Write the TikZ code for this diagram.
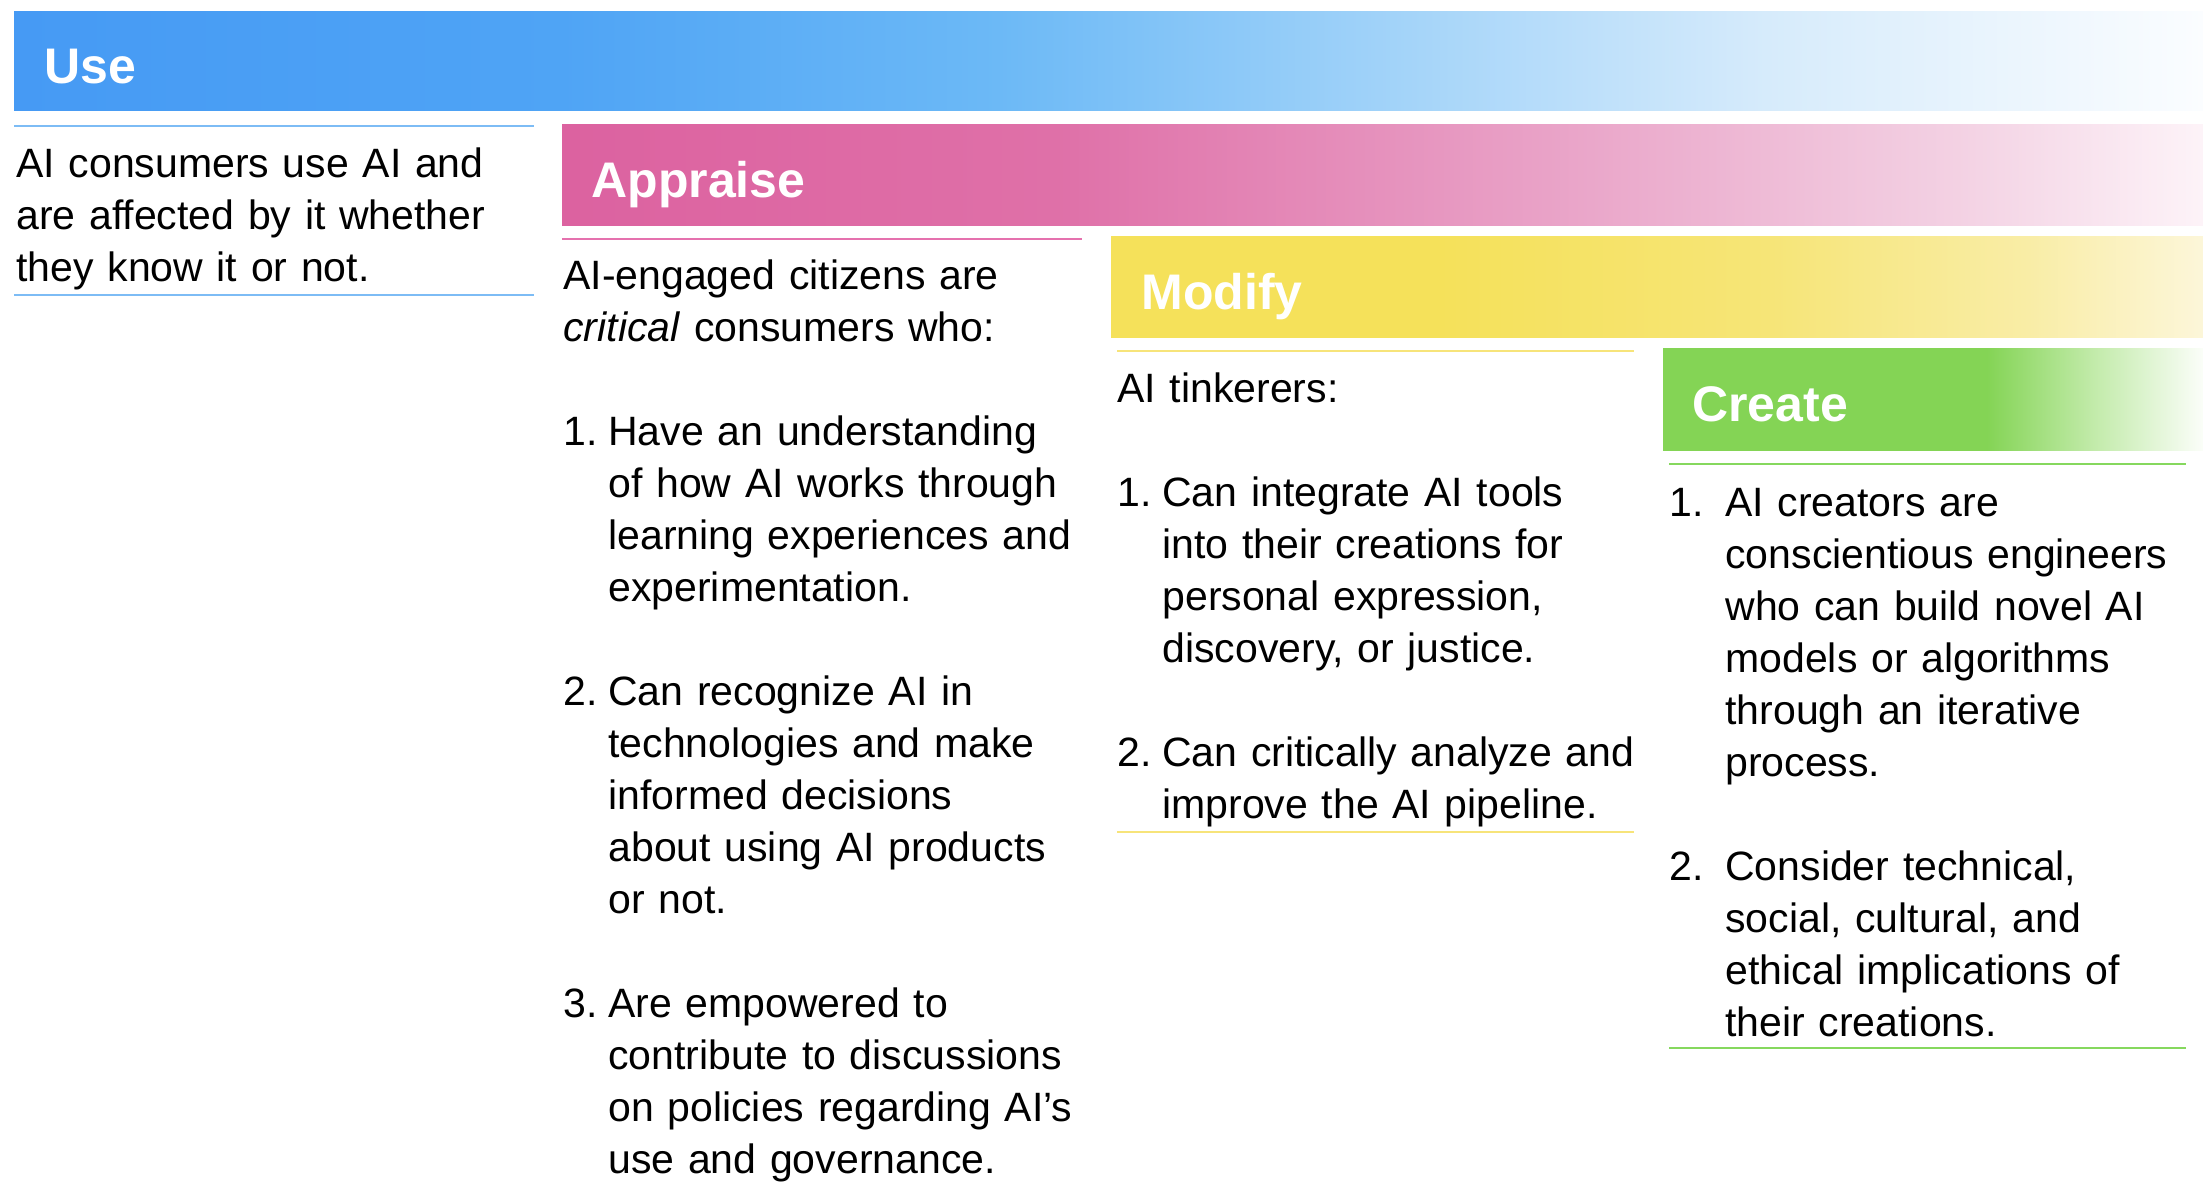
\documentclass[tikz,border=0pt]{standalone}
\usepackage{fontspec}
\setmainfont{Liberation Sans}
\usetikzlibrary{positioning}

% bar and rule colours
\definecolor{usea}{HTML}{469AF4}
\definecolor{useb}{HTML}{4FA4F5}
\definecolor{usec}{HTML}{6CB9F6}
\definecolor{used}{HTML}{A2D3F9}
\definecolor{usee}{HTML}{D6EBFB}
\definecolor{usef}{HTML}{FBFDFF}
\definecolor{appa}{HTML}{DC62A0}
\definecolor{appb}{HTML}{DF70A8}
\definecolor{appc}{HTML}{E9A2C7}
\definecolor{appd}{HTML}{F3D1E3}
\definecolor{appe}{HTML}{FDF3F8}
\definecolor{moda}{HTML}{F5E15A}
\definecolor{modb}{HTML}{F6E577}
\definecolor{modc}{HTML}{F9EDA6}
\definecolor{modd}{HTML}{FCF6D9}
\definecolor{crea}{HTML}{84D455}
\definecolor{creb}{HTML}{C3EBAB}
\definecolor{crec}{HTML}{FBFEF9}
\definecolor{userule}{HTML}{7DBCF5}
\definecolor{apprule}{HTML}{E571AE}
\definecolor{modrule}{HTML}{F7E47A}
\definecolor{crerule}{HTML}{86D85E}

\pgfdeclarehorizontalshading{useshade}{100bp}{color(0bp)=(usea); color(25bp)=(usea);
  color(37.5bp)=(useb); color(47.5bp)=(usec); color(56.5bp)=(used); color(65bp)=(usee);
  color(75bp)=(usef); color(100bp)=(usef)}
\pgfdeclarehorizontalshading{appshade}{100bp}{color(0bp)=(appa); color(25bp)=(appa);
  color(40bp)=(appb); color(55bp)=(appc); color(67.5bp)=(appd); color(75bp)=(appe);
  color(100bp)=(appe)}
\pgfdeclarehorizontalshading{modshade}{100bp}{color(0bp)=(moda); color(25bp)=(moda);
  color(40bp)=(moda); color(55bp)=(modb); color(67bp)=(modc); color(75bp)=(modd);
  color(100bp)=(modd)}
\pgfdeclarehorizontalshading{creshade}{100bp}{color(0bp)=(crea); color(25bp)=(crea);
  color(55bp)=(crea); color(65bp)=(creb); color(75bp)=(crec); color(100bp)=(crec)}

\newcommand\itemno[2][22.5pt]{\makebox[#1][l]{#2}}
\newcommand\contline[1][22.5pt]{\hspace*{#1}\ignorespaces}

\begin{document}
\begin{tikzpicture}[x=0.5pt, y=-0.5pt,
    heading/.style={anchor=base west, inner sep=0, text=white,
      font=\fontsize{25}{30}\selectfont\bfseries},
    column/.style={anchor=base west, inner sep=0, text width=262pt, align=left,
      font=\fontsize{20.5}{26}\selectfont},
    rule/.style={line width=1.3pt}]

  \useasboundingbox (0,0) rectangle (2203,1183);

  % bars
  \shade[shading=useshade] (14,11) rectangle (2203,110);
  \shade[shading=appshade] (562,124) rectangle (2203,225);
  \shade[shading=modshade] (1111,236) rectangle (2203,337);
  \shade[shading=creshade] (1663,348) rectangle (2203,450);

  \node[heading] (usehead) at (44,83) {Use};
  \node[heading] (apphead) at (591,197) {Appraise};
  \node[heading] (modhead) at (1141,309) {Modify};
  \node[heading] (crehead) at (1692,421) {Create};

  % Use
  \draw[rule, userule] (14,126) -- (534,126);
  \node[column] (usetext) at (16,177)
    {AI consumers use AI and\\ are affected by it whether\\ they know it or not.};
  \draw[rule, userule] (14,295) -- (534,295);

  % Appraise
  \draw[rule, apprule] (562,239) -- (1082,239);
  \node[column] (apptext) at (563,289)
    {AI-engaged citizens are\\ \textit{critical} consumers who:\\[26pt]
     \itemno{1.}Have an understanding\\ \contline of how AI works through\\
     \contline learning experiences and\\ \contline experimentation.\\[26pt]
     \itemno{2.}Can recognize AI in\\ \contline technologies and make\\
     \contline informed decisions\\ \contline about using AI products\\
     \contline or not.\\[26pt]
     \itemno{3.}Are empowered to\\ \contline contribute to discussions\\
     \contline on policies regarding AI’s\\ \contline use and governance.};

  % Modify
  \draw[rule, modrule] (1117,351) -- (1634,351);
  \node[column] (modtext) at (1117,402)
    {AI tinkerers:\\[26pt]
     \itemno{1.}Can integrate AI tools\\ \contline into their creations for\\
     \contline personal expression,\\ \contline discovery, or justice.\\[26pt]
     \itemno{2.}Can critically analyze and\\ \contline improve the AI pipeline.};
  \draw[rule, modrule] (1117,832) -- (1634,832);

  % Create
  \draw[rule, crerule] (1669,464) -- (2186,464);
  \node[column] (cretext) at (1669,516)
    {\itemno[28pt]{1.}AI creators are\\ \contline[28pt] conscientious engineers\\
     \contline[28pt] who can build novel AI\\ \contline[28pt] models or algorithms\\
     \contline[28pt] through an iterative\\ \contline[28pt] process.\\[26pt]
     \itemno[28pt]{2.}Consider technical,\\ \contline[28pt] social, cultural, and\\
     \contline[28pt] ethical implications of\\ \contline[28pt] their creations.};
  \draw[rule, crerule] (1669,1048) -- (2186,1048);

\end{tikzpicture}
\end{document}
